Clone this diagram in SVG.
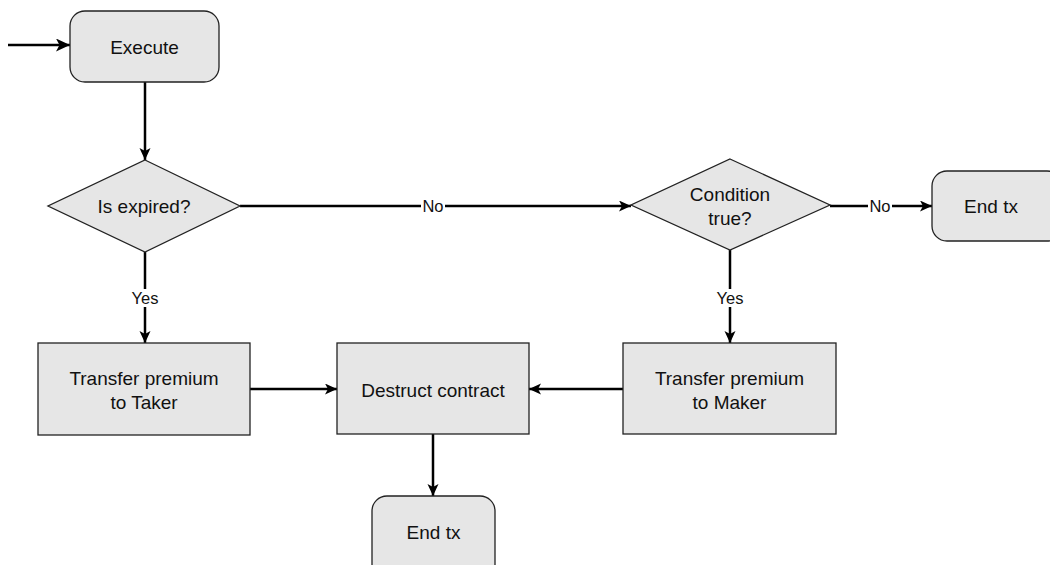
<svg xmlns="http://www.w3.org/2000/svg" width="1050" height="565" viewBox="0 0 1050 565">
  <style>
    .box { fill: #e6e6e6; stroke: #222; stroke-width: 1.3; }
    .txt { font-family: "Liberation Sans", Arial, sans-serif; font-size: 19px; fill: #111; text-anchor: middle; }
    .lbl { font-family: "Liberation Sans", Arial, sans-serif; font-size: 16.5px; fill: #111; text-anchor: middle; }
    .edge { fill: none; stroke: #000; stroke-width: 2.5; }
    .lblbg { fill: #fff; }
  </style>
  <defs>
    <marker id="arrow" markerUnits="userSpaceOnUse" markerWidth="14" markerHeight="12" refX="12" refY="5.5" orient="auto">
      <path d="M0,0 L12,5.5 L0,11 L3,5.5 z" fill="#000"/>
    </marker>
    <marker id="arrowBig" markerUnits="userSpaceOnUse" markerWidth="16" markerHeight="14" refX="14" refY="6.5" orient="auto">
      <path d="M0,0 L14,6.5 L0,13 L3.5,6.5 z" fill="#000"/>
    </marker>
  </defs>

  <!-- connectors -->
  <g id="connectors">
    <line class="edge" x1="8" y1="45" x2="70" y2="45" stroke-width="3.5" marker-end="url(#arrowBig)"/>
    <line class="edge" x1="145" y1="82" x2="145" y2="160" marker-end="url(#arrow)"/>
    <line class="edge" x1="240" y1="206" x2="631" y2="206" marker-end="url(#arrow)"/>
    <rect class="lblbg" x="421" y="197" width="24" height="18"/>
    <text class="lbl" x="433" y="212">No</text>
    <line class="edge" x1="830" y1="206" x2="932" y2="206" marker-end="url(#arrow)"/>
    <rect class="lblbg" x="868" y="197" width="24" height="18"/>
    <text class="lbl" x="880" y="212">No</text>
    <line class="edge" x1="145" y1="252" x2="145" y2="343" marker-end="url(#arrow)"/>
    <rect class="lblbg" x="129" y="289" width="32" height="18"/>
    <text class="lbl" x="145" y="304">Yes</text>
    <line class="edge" x1="730" y1="250" x2="730" y2="343" marker-end="url(#arrow)"/>
    <rect class="lblbg" x="714" y="289" width="32" height="18"/>
    <text class="lbl" x="730" y="304">Yes</text>
    <line class="edge" x1="250" y1="389" x2="337" y2="389" marker-end="url(#arrow)"/>
    <line class="edge" x1="623" y1="389" x2="529" y2="389" marker-end="url(#arrow)"/>
    <line class="edge" x1="433" y1="434" x2="433" y2="496" marker-end="url(#arrow)"/>
  </g>

  <g id="execute">
    <rect class="box" x="70" y="11" width="149" height="71" rx="15" ry="15"/>
    <text class="txt" x="144.5" y="54">Execute</text>
  </g>

  <g id="is-expired">
    <polygon class="box" points="145,160 240,206 145,252 48,206"/>
    <text class="txt" x="144" y="213">Is expired?</text>
  </g>

  <g id="condition-true">
    <polygon class="box" points="730,159 830,205 730,250 631,205"/>
    <text class="txt" x="730" y="201">Condition</text>
    <text class="txt" x="730" y="225">true?</text>
  </g>

  <g id="end-tx-right">
    <rect class="box" x="932" y="171" width="130" height="70" rx="15" ry="15"/>
    <text class="txt" x="991" y="213">End tx</text>
  </g>

  <g id="transfer-taker">
    <rect class="box" x="38" y="343" width="212" height="92"/>
    <text class="txt" x="144" y="385">Transfer premium</text>
    <text class="txt" x="144" y="409">to Taker</text>
  </g>

  <g id="destruct-contract">
    <rect class="box" x="337" y="343" width="192" height="91"/>
    <text class="txt" x="433" y="397">Destruct contract</text>
  </g>

  <g id="transfer-maker">
    <rect class="box" x="623" y="343" width="213" height="91"/>
    <text class="txt" x="729.5" y="385">Transfer premium</text>
    <text class="txt" x="729.5" y="409">to Maker</text>
  </g>

  <g id="end-tx-bottom">
    <rect class="box" x="372" y="496" width="123" height="90" rx="15" ry="15"/>
    <text class="txt" x="433.5" y="539">End tx</text>
  </g>
</svg>
